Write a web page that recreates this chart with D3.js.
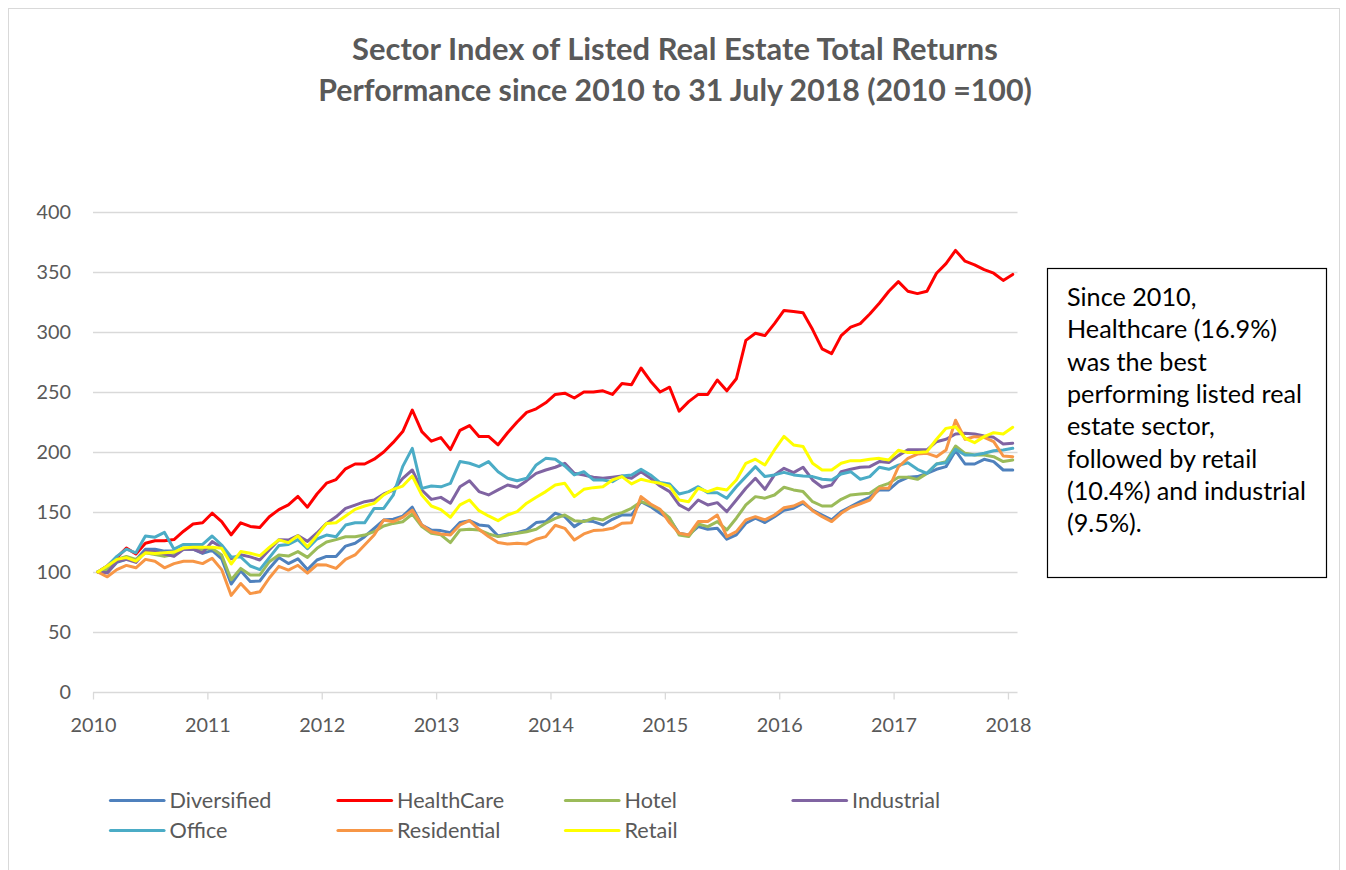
<!DOCTYPE html>
<html>
<head>
<meta charset="utf-8">
<script src="https://cdn.jsdelivr.net/npm/d3@7"></script>
<style>
  html, body { margin: 0; padding: 0; background: #fff; }
  svg { display: block; font-family: Lato, "Open Sans", sans-serif; }
</style>
</head>
<body>
<svg id="chart" width="1346" height="870"></svg>
<script>
// ---------- DATA ----------
const titleLines = ["Sector Index of Listed Real Estate Total Returns",
                    "Performance since 2010 to 31 July 2018 (2010 =100)"];
const yearLabels = ["2010","2011","2012","2013","2014","2015","2016","2017","2018"];
const yTicks = [0, 50, 100, 150, 200, 250, 300, 350, 400];
const seriesNames = ["Diversified","HealthCare","Hotel","Industrial","Office","Residential","Retail"];
const seriesColors = ["#4F81BD","#FF0000","#9BBB59","#8064A2","#4BACC6","#F79646","#FFFF00"];
const noteLines = ["Since 2010,", "Healthcare (16.9%)", "was the best", "performing listed real",
                   "estate sector,", "followed by retail", "(10.4%) and industrial", "(9.5%)."];

const diversified = [100,99.4,108,110.5,110,119,119,117.4,117.4,119,119,115.5,118,
  111,90,101,92,92.5,103,112,107,111,102,110,113,
  113,121.6,124,129.4,136.4,143.3,144,146.6,154,139,135,134.5,
  132.8,141.2,142.8,139.2,138.4,130,131.7,132.8,135,141.2,142,149,
  146.1,137.8,142.8,142,139.2,143.9,147.5,147.5,158.6,154.5,148.9,144,
  132.3,130.9,137.8,135.6,136.4,127.3,130.9,140.6,144.8,141.2,146.1,151.5,
  153.1,157.3,151.7,147.5,143.4,150.3,154.5,158.6,162.3,168.4,168.4,175.3,
  178.9,179.5,182.2,185.6,187.8,201.1,190,190,193.9,192,185,185];
const healthcare = [100,105,112,120,115,124,126,126,127,134,140,141,149,
  142,131,141,138,137,146,152,156,163,154,165,174,
  177,186,190,190,194,200,208,217,235,217,209,212,
  202,218,222,213,213,206,216,225,233,236,241,248,
  249,245,250,250,251,248,257,256,270,259,250,254,
  234,242,248,248,260,251,261,293,299,297,307,318,
  317,316,302,286,282,297,304,307,315,324,334,342,
  334,332,334,349,357,368,359,356,352,349,343,348];
const hotel = [100,102,110.5,113,110.5,116,114.6,113,114.6,120,119.4,118.8,119.7,
  114.2,93.5,103,97.5,97.5,108.6,114.2,113.3,117,112.2,119.7,125,
  127,129.4,129.4,130.8,133.6,138.3,140.5,141.9,148.3,137.8,132.2,131,
  124.5,135,135.6,135,131.7,129.5,130.9,132.3,133.6,135.6,140.6,144.7,
  147.5,142.8,142,144.8,143.4,147.5,149.5,153.1,158.6,155.9,151.7,145,
  130.9,129.5,140,137.8,142,135,144.8,155.9,162.8,161.5,164.2,170.6,
  168.4,167,158.6,155,155,160.6,164.2,165,165.6,171.1,173.9,179,
  178.9,177.2,182.2,190,192,205,198.9,197.5,197.5,196.1,192,193.4];
const industrial = [100,99.4,109,110.5,108,117,117,115,113,119,119,116,125.3,
  120.6,111,114.4,112.6,110,118.6,126.8,126.6,130.4,125.5,132.5,140.5,
  146,153,155.8,158.6,160,165,168.3,178,185,168.3,160.5,162.2,
  157.3,171.1,176.1,167,164.2,168.4,172.5,170.6,176.1,182.2,185,187.3,
  190.6,182.3,180.9,179,178.1,179,180,178.1,183.6,178.1,171.7,167,
  155.9,151.7,160,155.9,157.8,150.3,160,169.8,178.1,168.9,180.9,186.4,
  182.8,187.3,176.7,170.6,172.5,183.6,185.6,187.3,187.8,192,191.2,197,
  201.8,201.8,201.8,208.6,210.6,215,215.6,215,213.3,212.2,206.7,207.3];
const office = [100,105,113,119,116,130,129,133,119,123,123,123,130,
  122.5,112.5,112.5,105,102,112,122,123,127,119.5,127.5,130.8,
  129.4,139.1,141,141,153,153,164,188,203,169.7,171.6,171,
  173.9,192,190.6,187.8,192,183.6,178.1,176.1,178.1,189.2,194.7,194,
  188.4,180.9,183.6,176.7,176.7,175.3,180,180.9,185.6,180.9,174.5,173.4,
  165,167,171.1,166.1,166.1,161.5,171.1,179.5,187.8,179.5,180.9,183,
  180.9,180,179.5,177.3,176.7,181.7,183.6,177.3,179.5,187.3,185.6,189,
  191.1,185.6,182.2,190,191.1,202.3,197.5,197.5,198.9,201.1,201.7,203.1];
const residential = [100,96,102,105.5,103.5,110.5,109,103.5,107,109,109,107,111.5,
  102,80.5,90.4,82,83.5,95,104.7,101.6,105.6,99,106,105.8,
  103,110.5,114.2,122.5,130.8,143.3,141.9,145.5,151.6,139.1,133.6,131.7,
  130.9,139.2,142.8,135.6,129.5,124.5,123.4,123.9,123.4,127.3,129.5,139,
  136.4,126.7,131.7,134.5,135,136.4,140.6,141.1,162.8,156.7,152.3,141,
  132.3,130.9,142,142,147.5,129.5,133.6,143.4,146.1,143.4,147.5,153.5,
  155,158.6,151.1,146.1,142,148.9,153.9,156.7,160,169.8,169.8,187.5,
  194.7,198.3,198.9,196.1,201.7,226.5,210.6,212.8,212.2,208.6,196.7,196.1];
const retail = [100,105,110.5,112,109,116,115.5,116,116.6,120,120.7,120.7,120.6,
  119.7,106.7,117,115.6,113.5,120.5,126.8,124.5,130.2,120.8,130.4,140.5,
  141,146.6,152.2,155,157.2,164.2,168.9,171.6,180,164.2,155,152,
  145.6,155.9,160,151.1,146.7,142.8,147.5,150.3,157.3,162.3,167,172.5,
  173.9,162.8,168.9,170.3,171.1,176.7,179.5,173.4,177.3,175.3,173.9,171.5,
  160,158.6,169.8,167,169.8,168.4,176.7,190.6,194,189.2,201.7,213,
  205.9,204.5,190.6,185,185,190.6,192.8,192.8,193.9,194.7,193.4,201.4,
  199.5,199.5,200.3,210.6,219.7,221.1,211.4,207.8,212.8,216.1,215,220.6];

const seriesValues = [diversified, healthcare, hotel, industrial, office, residential, retail];

// ---------- DRAW ----------
const svg = d3.select("#chart");
const textGrey = "#595959";

function fitWidth(sel, target) {
  const len = sel.node().getComputedTextLength();
  const fs = parseFloat(sel.attr("font-size"));
  const nfs = fs * target / len;
  sel.attr("font-size", nfs);
  return nfs;
}

// outer chart border
svg.append("rect").attr("x", 8.5).attr("y", 8.5).attr("width", 1331).attr("height", 880)
  .attr("fill", "none").attr("stroke", "#d9d9d9").attr("stroke-width", 1);

// title
const titleWidths = [646, 714];
const titleBase = [60, 101];
titleLines.forEach((t, k) => {
  const s = svg.append("text").attr("x", 675).attr("y", titleBase[k])
    .attr("text-anchor", "middle").attr("font-weight", "bold")
    .attr("font-size", 26).attr("fill", textGrey).text(t);
  fitWidth(s, titleWidths[k]);
});

const nPts = healthcare.length;            // 97 monthly points
const x = d3.scaleLinear().domain([0, nPts]).range([93, 1017.5]);
const y = d3.scaleLinear().domain([0, 400]).range([692, 212]);

// gridlines
svg.append("g").selectAll("line").data(yTicks.filter(d => d > 0)).join("line")
  .attr("x1", x(0)).attr("x2", x(nPts))
  .attr("y1", d => Math.round(y(d)) + 0.5).attr("y2", d => Math.round(y(d)) + 0.5)
  .attr("stroke", "#d9d9d9").attr("stroke-width", 1.3);

// y axis labels
const probe = svg.append("text").attr("font-size", 20).text("2010");
const axisFs = fitWidth(probe, 46);
probe.remove();

const yAxis = d3.axisLeft(y).tickValues(yTicks).tickSize(0).tickPadding(0)
  .tickFormat(d3.format("d"));
const gy = svg.append("g").attr("transform", "translate(71,0)").call(yAxis);
gy.select(".domain").remove();
gy.selectAll("text").attr("font-size", axisFs).attr("fill", textGrey)
  .attr("font-family", "Lato, sans-serif").attr("dy", "0.35em");

// x axis
const xTickPos = yearLabels.map((_, k) => k * 12);
const xAxis = d3.axisBottom(x).tickValues(xTickPos).tickSize(7).tickPadding(0)
  .tickFormat((d, k) => yearLabels[k]);
const gx = svg.append("g").attr("transform", "translate(0,692.5)").call(xAxis);
gx.select(".domain").attr("stroke", "#d9d9d9").attr("stroke-width", 1.3)
  .attr("d", `M${x(0)},0H${x(nPts)}`);
gx.selectAll(".tick line").attr("stroke", "#d9d9d9").attr("stroke-width", 1.3);
gx.selectAll(".tick text").attr("font-size", axisFs).attr("fill", textGrey)
  .attr("font-family", "Lato, sans-serif").attr("dy", 0).attr("y", 39);

// lines
const line = d3.line().x((d, i) => x(i + 0.5)).y(d => y(d)).curve(d3.curveLinear);
seriesValues.forEach((vals, k) => {
  svg.append("path").datum(vals).attr("d", line)
    .attr("fill", "none").attr("stroke", seriesColors[k]).attr("stroke-width", 3)
    .attr("stroke-linejoin", "round").attr("stroke-linecap", "round");
});

// legend
const legProbe = svg.append("text").attr("font-size", 20).text("Diversified");
const legFs = fitWidth(legProbe, 102);
legProbe.remove();
const leg = svg.append("g");
seriesNames.forEach((name, k) => {
  const col = k % 4, row = Math.floor(k / 4);
  const lx = 110.5 + col * 227.5, ly = 800.5 + row * 30;
  leg.append("line").attr("x1", lx).attr("x2", lx + 53.5).attr("y1", ly).attr("y2", ly)
    .attr("stroke", seriesColors[k]).attr("stroke-width", 3.2).attr("stroke-linecap", "round");
  leg.append("text").attr("x", lx + 59).attr("y", ly + 7.5).attr("font-size", legFs)
    .attr("fill", textGrey).text(name);
});

// note box
svg.append("rect").attr("x", 1047.5).attr("y", 268.5).attr("width", 279).attr("height", 309)
  .attr("fill", "#fff").attr("stroke", "#000").attr("stroke-width", 1.2);
const nProbe = svg.append("text").attr("font-size", 20).text(noteLines[3]);
const noteFs = fitWidth(nProbe, 235);
nProbe.remove();
svg.append("g").selectAll("text").data(noteLines).join("text")
  .attr("x", 1067).attr("y", (d, i) => 306 + i * 32.3)
  .attr("font-size", noteFs).attr("fill", "#000").text(d => d);
</script>
</body>
</html>
